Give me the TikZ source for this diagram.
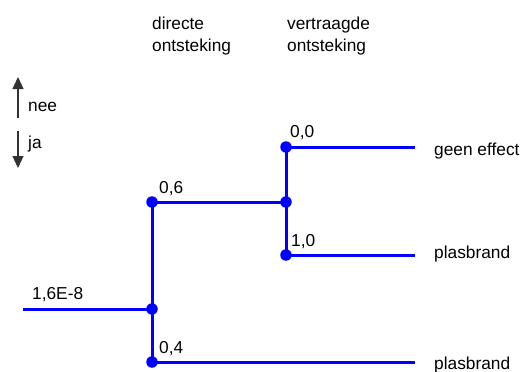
\documentclass[tikz,border=0pt]{standalone}
\usepackage{fontspec}
\setmainfont{Liberation Sans}
\usetikzlibrary{arrows.meta}
\definecolor{treeblue}{RGB}{0,0,255}
\begin{document}
\begin{tikzpicture}[x=1pt,y=-1pt,
  branch/.style={draw=treeblue,line width=3pt},
  dot/.style={circle,fill=treeblue,inner sep=0pt,minimum size=11.5pt},
  lbl/.style={anchor=base west,inner sep=0pt,font=\fontsize{17.3pt}{23pt}\selectfont},
  legarrow/.style={draw=black!80,line width=1.1pt,-{Triangle[length=12pt,width=11pt]}}]
\useasboundingbox (0,0) rectangle (523,372);
% headers
\node[lbl] (h1a) at (152,29) {directe};
\node[lbl] (h1b) at (152,52) {ontsteking};
\node[lbl] (h2a) at (287,29) {vertraagde};
\node[lbl] (h2b) at (287,52) {ontsteking};
% legend
\coordinate (upS) at (18,118);
\coordinate (upE) at (18,77);
\coordinate (dnS) at (18,131);
\coordinate (dnE) at (18,168);
\draw[legarrow] (upS) -- (upE);
\draw[legarrow] (dnS) -- (dnE);
\node[lbl] (nee) at (28,111) {nee};
\node[lbl] (ja) at (28,148) {ja};
% tree points
\coordinate (in) at (23,309);
\node[dot] (a) at (152,309) {};
\node[dot] (a1) at (152,202) {};
\node[dot] (a2) at (152,362) {};
\node[dot] (b) at (286,202) {};
\node[dot] (b1) at (286,147) {};
\node[dot] (b2) at (286,255) {};
\coordinate (e1) at (415,147);
\coordinate (e2) at (415,255);
\coordinate (e3) at (415,362);
% branches
\draw[branch] (in) -- (a.center);
\draw[branch] (a1.center) -- (a2.center);
\draw[branch] (a1.center) -- (b.center);
\draw[branch] (b1.center) -- (b2.center);
\draw[branch] (b1.center) -- (e1);
\draw[branch] (b2.center) -- (e2);
\draw[branch] (a2.center) -- (e3);
% labels
\node[lbl] (p0) at (32,299) {1,6E-8};
\node[lbl] (p1) at (159,193) {0,6};
\node[lbl] (p2) at (159,353) {0,4};
\node[lbl] (p3) at (290,137) {0,0};
\node[lbl] (p4) at (291,246) {1,0};
\node[lbl] (o1) at (434,155) {geen effect};
\node[lbl] (o2) at (434,258) {plasbrand};
\node[lbl] (o3) at (434,369) {plasbrand};
\end{tikzpicture}
\end{document}
